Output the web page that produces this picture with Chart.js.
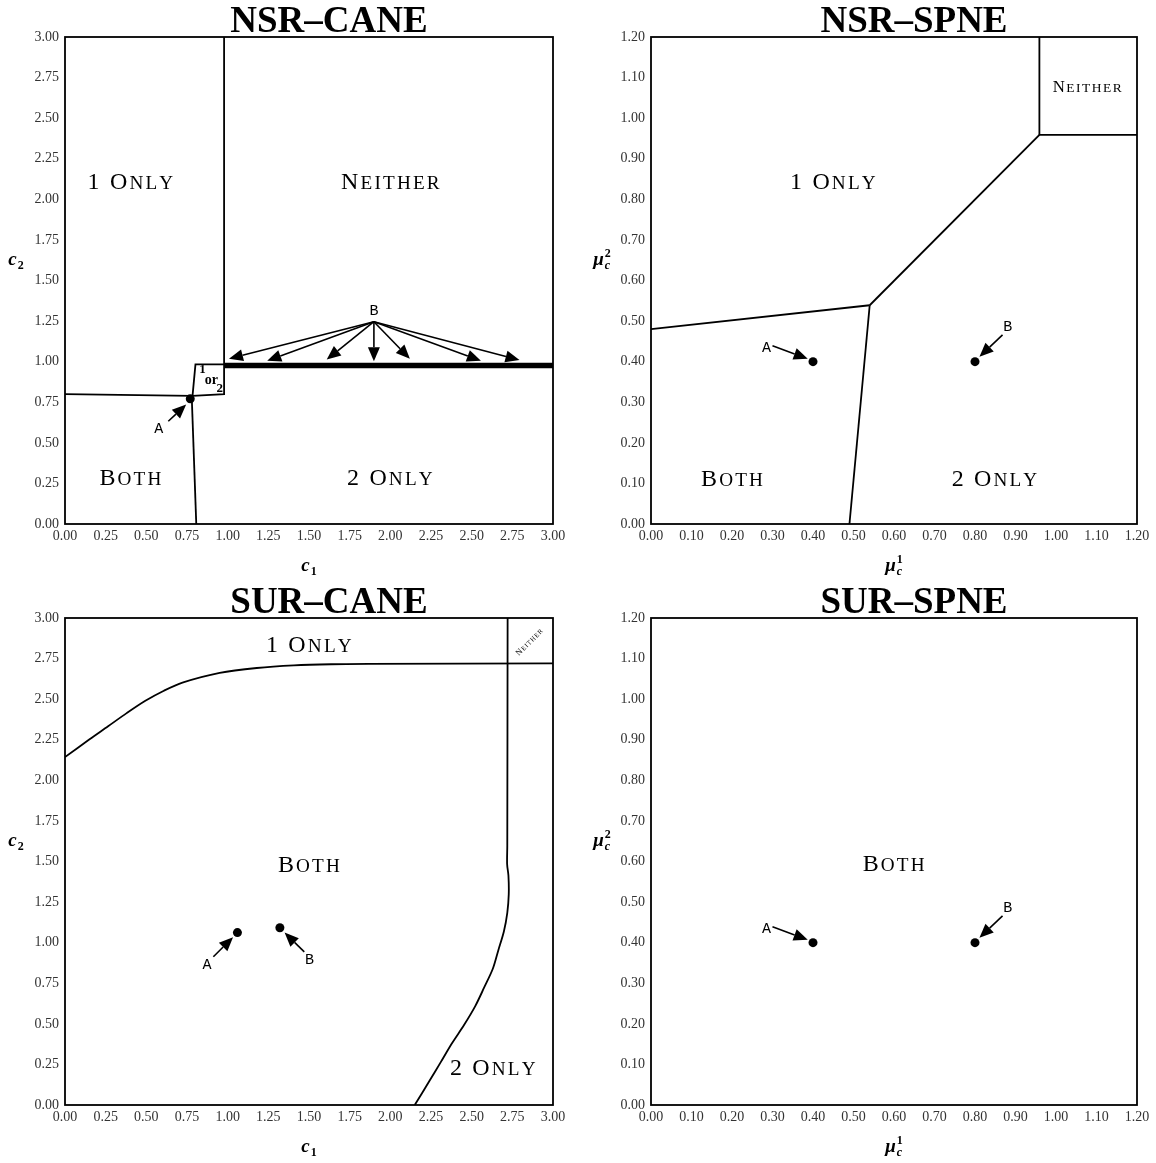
<!DOCTYPE html>
<html>
<head>
<meta charset="utf-8">
<script src="https://cdn.jsdelivr.net/npm/chart.js@4.4.1/dist/chart.umd.min.js"></script>
<style>
  html, body { margin: 0; padding: 0; background: #fff; }
  #wrap { position: relative; width: 1156px; height: 1163px; }
  #wrap canvas { position: absolute; }
</style>
</head>
<body>
<div id="wrap">
  <canvas id="nsrCane" width="578" height="580" style="left:0;top:0"></canvas>
  <canvas id="nsrSpne" width="578" height="580" style="left:578px;top:0"></canvas>
  <canvas id="surCane" width="578" height="583" style="left:0;top:580px"></canvas>
  <canvas id="surSpne" width="578" height="583" style="left:578px;top:580px"></canvas>
</div>
<script>
// --- DADOS ---
// tick values
const cTicks = [0, 0.25, 0.5, 0.75, 1, 1.25, 1.5, 1.75, 2, 2.25, 2.5, 2.75, 3];
const muTicks = [0, 0.1, 0.2, 0.3, 0.4, 0.5, 0.6, 0.7, 0.8, 0.9, 1.0, 1.1, 1.2];

// NSR-CANE (c1, c2)
const nsrCaneBothTop = [[0, 0.80], [0.784, 0.789]];
const nsrCaneBothRight = [[0.779, 0.789], [0.807, 0]];
const nsrCaneOrBox = [[0.784, 0.789], [0.802, 0.983], [0.978, 0.983], [0.978, 0.800], [0.784, 0.789]];
const nsrCaneSplit = [[0.978, 0.983], [0.978, 3.0]];
const nsrCaneThick = [[0.978, 0.976], [3.0, 0.976]];
const nsrCanePoints = [[0.77, 0.771]];
const nsrCaneArrows = [
  [0.635, 0.633, 0.745, 0.736],
  [1.899, 1.246, 1.008, 1.018], [1.899, 1.246, 1.243, 1.006], [1.899, 1.246, 1.609, 1.013],
  [1.899, 1.246, 1.899, 1.002], [1.899, 1.246, 2.120, 1.018], [1.899, 1.246, 2.557, 1.006],
  [1.899, 1.246, 2.794, 1.010]
];
const nsrCaneLetters = [['A', 0.576, 0.583], ['B', 1.899, 1.31]];
const nsrCaneRegions = [['1 Only', 0.402, 2.115], ['Neither', 2.0, 2.115], ['Both', 0.402, 0.286], ['2 Only', 1.997, 0.286]];
const nsrCaneBoxText = [['1', 0.846, 0.948], ['or', 0.900, 0.882], ['2', 0.952, 0.834]];

// NSR-SPNE (mu1, mu2)
const nsrSpneLeft = [[0, 0.480], [0.540, 0.539]];
const nsrSpneDown = [[0.540, 0.539], [0.490, 0]];
const nsrSpneDiag = [[0.540, 0.539], [0.959, 0.959]];
const nsrSpneNeither = [[0.959, 1.2], [0.959, 0.959], [1.2, 0.959]];
const spnePoints = [[0.40, 0.40], [0.80, 0.40]];
const spneArrows = [[0.300, 0.439, 0.387, 0.407], [0.868, 0.466, 0.811, 0.412]];
const spneLetters = [['A', 0.285, 0.434], ['B', 0.881, 0.485]];
const nsrSpneRegions = [['1 Only', 0.449, 0.846], ['Neither', 1.077, 1.079, 0.7], ['Both', 0.20, 0.114], ['2 Only', 0.848, 0.114]];

// SUR-CANE (c1, c2)
const surCaneTop = [
  [0, 2.143], [0.151, 2.253], [0.265, 2.333], [0.379, 2.414], [0.494, 2.490], [0.608, 2.552],
  [0.722, 2.602], [0.951, 2.662], [1.179, 2.692], [1.407, 2.708], [1.636, 2.715], [1.865, 2.717],
  [3.0, 2.720]
];
const surCaneRight = [
  [2.721, 3.0], [2.719, 1.60], [2.718, 1.483], [2.726, 1.414], [2.728, 1.299], [2.719, 1.184],
  [2.698, 1.069], [2.664, 0.954], [2.630, 0.839], [2.577, 0.724], [2.522, 0.609], [2.454, 0.494],
  [2.378, 0.379], [2.310, 0.264], [2.241, 0.149], [2.150, 0]
];
const surCanePoints = [[1.060, 1.062], [1.321, 1.092]];
const surCaneArrows = [[0.912, 0.913, 1.033, 1.034], [1.471, 0.943, 1.350, 1.062]];
const surCaneLetters = [['A', 0.873, 0.862], ['B', 1.503, 0.892]];
const surCaneRegions = [['1 Only', 1.499, 2.839], ['Both', 1.499, 1.487], ['2 Only', 2.630, 0.234], ['Neither', 2.853, 2.853, 0.35, -45]];

// SUR-SPNE
const surSpneRegions = [['Both', 0.599, 0.595]];

// --- DESENHO ---
const SERIF = '"Liberation Serif", "DejaVu Serif", serif';

function drawArrow(ctx, x0, y0, x1, y1) {
  const ang = Math.atan2(y1 - y0, x1 - x0), len = 14, half = 6;
  const bx = x1 - len * Math.cos(ang), by = y1 - len * Math.sin(ang);
  ctx.beginPath();
  ctx.moveTo(x0, y0);
  ctx.lineTo(bx, by);
  ctx.lineWidth = 1.6;
  ctx.stroke();
  ctx.beginPath();
  ctx.moveTo(x1, y1);
  ctx.lineTo(bx + half * Math.sin(ang), by - half * Math.cos(ang));
  ctx.lineTo(bx - half * Math.sin(ang), by + half * Math.cos(ang));
  ctx.closePath();
  ctx.fill();
}

// small caps: lower case letters become smaller capitals
function smallCaps(ctx, text, cx, cy, size, rot) {
  const small = size * 0.8, gap = size * 0.09;
  const parts = [...text].map(ch => {
    const lower = ch !== ch.toUpperCase();
    return { ch: ch.toUpperCase(), font: (lower ? small : size) + 'px ' + SERIF };
  });
  let w = 0;
  parts.forEach(p => { ctx.font = p.font; p.w = ctx.measureText(p.ch).width; w += p.w + gap; });
  w -= gap;
  ctx.save();
  ctx.translate(cx, cy);
  ctx.rotate((rot || 0) * Math.PI / 180);
  ctx.textAlign = 'left';
  ctx.textBaseline = 'alphabetic';
  let xx = -w / 2;
  parts.forEach(p => { ctx.font = p.font; ctx.fillText(p.ch, xx, size * 0.33); xx += p.w + gap; });
  ctx.restore();
}

// math label like c_1 or mu_c^1
function mathLabel(ctx, cx, cy, base, sub, sup) {
  ctx.save();
  ctx.textAlign = 'left';
  ctx.textBaseline = 'alphabetic';
  const bf = 'italic bold 19px ' + SERIF;
  const sf = (sub === 'c' ? 'italic ' : '') + 'bold 12px ' + SERIF;
  const pf = 'bold 12px ' + SERIF;
  ctx.font = bf; const bw = ctx.measureText(base).width;
  ctx.font = sf; const sw = ctx.measureText(sub).width;
  ctx.font = pf; const pw = sup ? ctx.measureText(sup).width : 0;
  const w = bw + 1 + Math.max(sw, pw);
  const x0 = cx - w / 2, base_y = cy + 5;
  ctx.font = bf; ctx.fillText(base, x0, base_y);
  ctx.font = sf; ctx.fillText(sub, x0 + bw + 1, base_y + 4);
  if (sup) { ctx.font = pf; ctx.fillText(sup, x0 + bw + 1, base_y - 8); }
  ctx.restore();
}

function makeDecor(spec) {
  return {
    id: 'decor',
    afterDatasetsDraw(chart) {
      const { ctx, chartArea: a, scales: { x, y } } = chart;
      const px = v => x.getPixelForValue(v), py = v => y.getPixelForValue(v);
      ctx.save();
      ctx.fillStyle = '#000';
      ctx.strokeStyle = '#000';
      // moldura
      ctx.lineWidth = 1.8;
      ctx.strokeRect(a.left, a.top, a.right - a.left, a.bottom - a.top);
      // setas
      spec.arrows.forEach(([x0, y0, x1, y1]) => drawArrow(ctx, px(x0), py(y0), px(x1), py(y1)));
      // letras A / B
      ctx.font = '15px "Liberation Mono", "DejaVu Sans Mono", monospace';
      ctx.textAlign = 'center';
      ctx.textBaseline = 'middle';
      spec.letters.forEach(([t, lx, ly]) => ctx.fillText(t, px(lx), py(ly)));
      // regioes
      spec.regions.forEach(([t, rx, ry, sc, rot]) => smallCaps(ctx, t, px(rx), py(ry), 24 * (sc || 1), rot));
      // "1 or 2"
      (spec.boxText || []).forEach(([t, tx, ty]) => {
        ctx.font = 'bold ' + (t === 'or' ? 14 : 13) + 'px ' + SERIF;
        ctx.fillText(t, px(tx), py(ty));
      });
      // titulo
      ctx.font = 'bold 37px ' + SERIF;
      ctx.textBaseline = 'alphabetic';
      ctx.fillText(spec.title, (a.left + a.right) / 2 + 20, a.top - 5);
      // eixos
      mathLabel(ctx, (a.left + a.right) / 2, a.bottom + 42, ...spec.xTitle);
      mathLabel(ctx, a.left - 49, (a.top + a.bottom) / 2 - 21, ...spec.yTitle);
      ctx.restore();
    }
  };
}

const toXY = pts => pts.map(([x, y]) => ({ x, y }));
const boundary = (pts, width, tension) => ({
  data: toXY(pts), showLine: true, borderColor: '#000', borderWidth: width || 1.8,
  pointRadius: 0, fill: false, tension: tension || 0
});
const dots = pts => ({
  data: toXY(pts), showLine: false, pointRadius: 4.5, pointHoverRadius: 4.5,
  backgroundColor: '#000', borderColor: '#000', borderWidth: 0
});

function axis(ticks, max, isY) {
  return {
    type: 'linear', min: 0, max: max,
    grid: { display: false, drawTicks: false },
    border: { display: false },
    afterBuildTicks: s => { s.ticks = ticks.map(v => ({ value: v })); },
    afterFit: s => { if (isY) s.width = 60; else s.height = 40; },
    ticks: {
      autoSkip: false, maxRotation: 0, minRotation: 0, maxTicksLimit: 20,
      padding: isY ? 6 : 4, color: '#333',
      font: { family: 'Liberation Serif', size: 14 },
      callback: v => Number(v).toFixed(2)
    }
  };
}

function panel(id, datasets, ticks, max, pad, spec) {
  new Chart(document.getElementById(id), {
    type: 'scatter',
    data: { datasets: datasets },
    options: {
      responsive: false,
      animation: false,
      layout: { padding: pad },
      plugins: { legend: { display: false }, tooltip: { enabled: false } },
      scales: { x: axis(ticks, max, false), y: axis(ticks, max, true) }
    },
    plugins: [makeDecor(spec)]
  });
}

panel('nsrCane', [
  boundary(nsrCaneBothTop), boundary(nsrCaneBothRight), boundary(nsrCaneOrBox),
  boundary(nsrCaneSplit), boundary(nsrCaneThick, 5.5), dots(nsrCanePoints)
], cTicks, 3, { top: 37, left: 5, right: 25, bottom: 16 }, {
  title: 'NSR–CANE', arrows: nsrCaneArrows, letters: nsrCaneLetters, regions: nsrCaneRegions,
  boxText: nsrCaneBoxText, xTitle: ['c', '1'], yTitle: ['c', '2']
});

panel('nsrSpne', [
  boundary(nsrSpneLeft), boundary(nsrSpneDown), boundary(nsrSpneDiag), boundary(nsrSpneNeither),
  dots(spnePoints)
], muTicks, 1.2, { top: 37, left: 13, right: 19, bottom: 16 }, {
  title: 'NSR–SPNE', arrows: spneArrows, letters: spneLetters, regions: nsrSpneRegions,
  xTitle: ['μ', 'c', '1'], yTitle: ['μ', 'c', '2']
});

panel('surCane', [
  boundary(surCaneTop, 1.8, 0.3), boundary(surCaneRight, 1.8, 0.3), dots(surCanePoints)
], cTicks, 3, { top: 38, left: 5, right: 25, bottom: 18 }, {
  title: 'SUR–CANE', arrows: surCaneArrows, letters: surCaneLetters, regions: surCaneRegions,
  xTitle: ['c', '1'], yTitle: ['c', '2']
});

panel('surSpne', [dots(spnePoints)], muTicks, 1.2, { top: 38, left: 13, right: 19, bottom: 18 }, {
  title: 'SUR–SPNE', arrows: spneArrows, letters: spneLetters, regions: surSpneRegions,
  xTitle: ['μ', 'c', '1'], yTitle: ['μ', 'c', '2']
});
</script>
</body>
</html>
